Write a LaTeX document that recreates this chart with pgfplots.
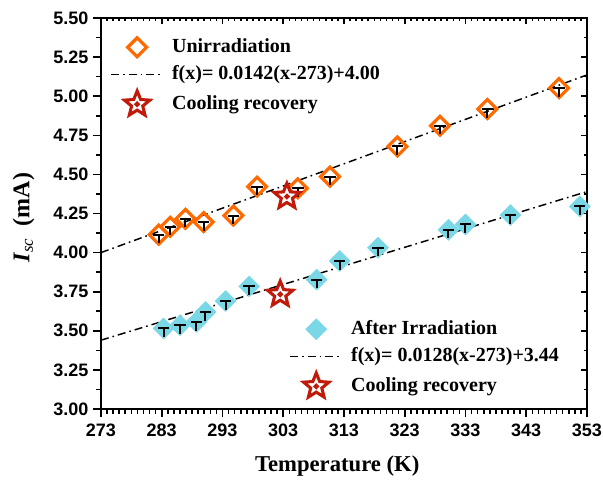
\documentclass[border=0pt]{standalone}
\usepackage{fontspec}
\setmainfont{Liberation Serif}
\newfontfamily\arial{Liberation Sans}
\usepackage{pgfplots}
\pgfplotsset{compat=1.18}
\definecolor{uorange}{HTML}{FF6A00}
\definecolor{icyan}{HTML}{7AD8E6}
\definecolor{sred}{HTML}{C01A0A}

\pgfdeclareplotmark{fivestar}{%
 \pgfpathmoveto{\pgfpointpolar{90}{\pgfplotmarksize}}%
 \pgfpathlineto{\pgfpointpolar{126}{0.44\pgfplotmarksize}}%
 \pgfpathlineto{\pgfpointpolar{162}{\pgfplotmarksize}}%
 \pgfpathlineto{\pgfpointpolar{198}{0.44\pgfplotmarksize}}%
 \pgfpathlineto{\pgfpointpolar{234}{\pgfplotmarksize}}%
 \pgfpathlineto{\pgfpointpolar{270}{0.44\pgfplotmarksize}}%
 \pgfpathlineto{\pgfpointpolar{306}{\pgfplotmarksize}}%
 \pgfpathlineto{\pgfpointpolar{342}{0.44\pgfplotmarksize}}%
 \pgfpathlineto{\pgfpointpolar{18}{\pgfplotmarksize}}%
 \pgfpathlineto{\pgfpointpolar{54}{0.44\pgfplotmarksize}}%
 \pgfpathclose
 \pgfusepathqfillstroke
 \pgfpathcircle{\pgfpointorigin}{0.08\pgfplotmarksize}%
 \pgfusepathqstroke
}
\pgfdeclareplotmark{tee}{%
 \pgfpathmoveto{\pgfqpoint{-4.3pt}{0pt}}\pgfpathlineto{\pgfqpoint{4.3pt}{0pt}}%
 \pgfpathmoveto{\pgfqpoint{0pt}{0pt}}\pgfpathlineto{\pgfqpoint{0pt}{-6.5pt}}%
 \pgfusepathqstroke
}

\pgfplotsset{
  common/.style={
    at={(0,0)}, anchor=south west, scale only axis,
    width=364.5pt, height=293.25pt,
    xmin=273, xmax=353, ymin=3, ymax=5.5,
    xtick={273,283,...,353},
    ytick={3,3.25,3.5,3.75,4,4.25,4.5,4.75,5,5.25,5.5},
    minor x tick num=9, minor y tick num=1,
    axis line style={line width=1.5pt},
    tick style={line width=1.2pt, black},
    legend image code/.code={\draw[mark repeat=2,mark phase=2,##1] plot coordinates {(0cm,0cm) (0.69cm,0cm) (1.38cm,0cm)};},
    legend style={draw=none, fill=none, inner sep=0pt, row sep=4pt,
      font=\bfseries\fontsize{15}{18}\selectfont,
      nodes={inner sep=1pt, text height=11pt, text depth=3.5pt},
      /tikz/every odd column/.append style={column sep=5pt}},
    legend cell align=left,
  },
  fitline/.style={black, line width=1.1pt, dash pattern=on 6pt off 3pt on 1.2pt off 3pt},
  teemark/.style={only marks, mark=tee, mark options={black, line width=1.5pt}, forget plot},
}

\begin{document}
\begin{tikzpicture}
\path[use as bounding box] (-75.75pt,-54.75pt) rectangle (376.5pt,306.75pt);

\begin{axis}[common,
  tick align=outside, xtick pos=left, ytick pos=left,
  major tick length=6pt, minor tick length=3.5pt,
  tick label style={font=\arial\bfseries\fontsize{13.5}{14}\selectfont},
  /pgf/number format/assume math mode=true,
  yticklabel style={/pgf/number format/.cd, fixed, fixed zerofill, precision=2},
  xticklabel style={yshift=-1.5pt},
  xlabel={\bfseries\fontsize{17}{20}\selectfont Temperature (K)},
  ylabel={\fontsize{18}{20}\selectfont{\bfseries\itshape I}\textsubscript{\itshape sc}\ \ \textbf{(mA)}},
  xlabel style={at={(rel axis cs:0.486,-0.161)}, anchor=base},
  ylabel style={at={(rel axis cs:-0.127,0.49)}, anchor=south, rotate=0},
  legend style={at={(0.0185,0.954)}, anchor=north west},
]
\addplot[fitline, forget plot] coordinates {(273,4.00) (353,5.136)};
\addplot[only marks, mark=square, mark size=5pt, mark options={rotate=45, draw=uorange, line width=2.4pt, fill=none}]
coordinates {
(282.5,4.115) (284.4,4.165) (286.9,4.216) (289.9,4.195) (294.8,4.237)
(298.7,4.422) (305.4,4.411) (310.7,4.486) (321.8,4.679) (328.8,4.811)
(336.6,4.918) (348.4,5.052)
};
\addlegendentry{Unirradiation}
\addlegendimage{fitline}
\addlegendentry{f(x)= 0.0142(x-273)+4.00}
\addplot[teemark] coordinates {
(282.5,4.115) (284.4,4.165) (286.9,4.216) (289.9,4.195) (294.8,4.237)
(298.7,4.422) (305.4,4.411) (310.7,4.486) (321.8,4.679) (328.8,4.811)
(336.6,4.918) (348.4,5.052)
};
\addplot[only marks, mark=fivestar, mark size=10pt, mark options={draw=sred, fill=white, line width=2.3pt}]
coordinates {(303.6,4.358)};
\addlegendentry{Cooling recovery}
\end{axis}

\begin{axis}[common,
  tick align=inside, xtick pos=right, ytick pos=right,
  major tick length=4.5pt, minor tick length=2.5pt,
  xticklabels={}, yticklabels={},
  legend style={at={(0.387,0.2327)}, anchor=north west},
]
\addplot[fitline, forget plot] coordinates {(273,3.44) (353,4.39)};
\addplot[only marks, mark=square*, mark size=5.6pt, mark options={rotate=45, draw=icyan, fill=icyan, line width=0.3pt}]
coordinates {
(283.3,3.515) (286.0,3.536) (288.7,3.557) (290.2,3.620) (293.5,3.690)
(297.4,3.784) (308.5,3.827) (312.3,3.946) (318.6,4.031) (330.2,4.146)
(333.0,4.180) (340.4,4.240) (351.8,4.295)
};
\addlegendentry{After Irradiation}
\addlegendimage{fitline}
\addlegendentry{f(x)= 0.0128(x-273)+3.44}
\addplot[teemark] coordinates {
(283.3,3.515) (286.0,3.536) (288.7,3.557) (290.2,3.620) (293.5,3.690)
(297.4,3.784) (308.5,3.827) (312.3,3.946) (318.6,4.031) (330.2,4.146)
(333.0,4.180) (340.4,4.240) (351.8,4.295)
};
\addplot[only marks, mark=fivestar, mark size=10pt, mark options={draw=sred, fill=white, line width=2.3pt}]
coordinates {(302.5,3.733)};
\addlegendentry{Cooling recovery}
\end{axis}
\end{tikzpicture}
\end{document}
